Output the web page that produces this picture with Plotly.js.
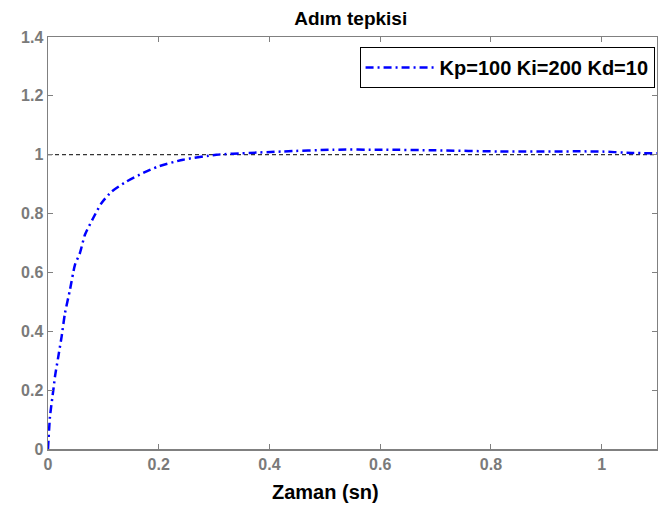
<!DOCTYPE html>
<html>
<head>
<meta charset="utf-8">
<script src="https://cdn.plot.ly/plotly-3.0.1.min.js"></script>
<style>html,body{margin:0;padding:0;background:#fff}#chart{width:658px;height:507px}</style>
</head>
<body>
<div id="chart"></div>
<script>
const seriesName = "Kp=100 Ki=200 Kd=10";
const xLabel = "Zaman (sn)";
const chartTitle = "Adım tepkisi";
const timeSec = [0, 0.0036, 0.0096, 0.0126, 0.0186, 0.0246, 0.0306, 0.0397, 0.0487, 0.0577, 0.0667, 0.0817, 0.0968, 0.115, 0.142, 0.172, 0.199, 0.244, 0.304, 0.364, 0.424, 0.514, 0.604, 0.7, 0.815, 0.995, 1.055, 1.1];
const response = [0, 0.11, 0.20, 0.246, 0.314, 0.382, 0.461, 0.541, 0.626, 0.666, 0.728, 0.785, 0.836, 0.875, 0.909, 0.938, 0.960, 0.983, 1.0, 1.006, 1.011, 1.017, 1.017, 1.015, 1.011, 1.011, 1.006, 1.005];
const refX = [0, 1.1];
const refY = [1, 1];
const xTicks = [0, 0.2, 0.4, 0.6, 0.8, 1];
const yTicks = [0, 0.2, 0.4, 0.6, 0.8, 1, 1.2, 1.4];

const F = "Liberation Sans, Arial, sans-serif";
const traces = [
  {x: refX, y: refY, mode: 'lines', showlegend: false, hoverinfo: 'skip',
   line: {color: '#000', width: 1, dash: '4px,3px'}},
  {x: timeSec, y: response, mode: 'lines', name: seriesName,
   line: {color: '#0000ff', width: 2.5, dash: '8px,4px,2px,4px', shape: 'spline', smoothing: 0.6}}
];
const axisCommon = {
  showgrid: false, zeroline: false, showline: true, linecolor: '#808080', linewidth: 1.5,
  mirror: 'ticks', ticks: 'inside', ticklen: 5, tickcolor: '#808080', tickwidth: 1,
  tickfont: {family: F, size: 16, color: '#7a7a7a', weight: 'bold'}
};
const layout = {
  width: 658, height: 507,
  margin: {l: 48, r: 1, t: 37, b: 58},
  paper_bgcolor: '#fff', plot_bgcolor: '#fff',
  title: {text: '<b>' + chartTitle + '</b>', font: {family: F, size: 19, color: '#000'},
          x: 0.533, xanchor: 'center', y: 0.963, yanchor: 'middle'},
  xaxis: Object.assign({}, axisCommon, {range: [0, 1.1], tickvals: xTicks, ticktext: xTicks.map(String)}),
  yaxis: Object.assign({}, axisCommon, {range: [0, 1.4], tickvals: yTicks, ticktext: yTicks.map(String)}),
  annotations: [{text: '<b>' + xLabel + '</b>', xref: 'paper', yref: 'paper', x: 0.456, y: -0.105,
    xanchor: 'center', yanchor: 'middle', showarrow: false, font: {family: F, size: 20, color: '#000'}}],
  showlegend: true,
  legend: {x: 0.996, xanchor: 'right', y: 0.976, yanchor: 'top', itemwidth: 69,
    bordercolor: '#000', borderwidth: 1, bgcolor: '#fff',
    font: {family: F, size: 20, color: '#000', weight: 'bold'}}
};
Plotly.newPlot('chart', traces, layout, {staticPlot: true, displayModeBar: false});
</script>
</body>
</html>
